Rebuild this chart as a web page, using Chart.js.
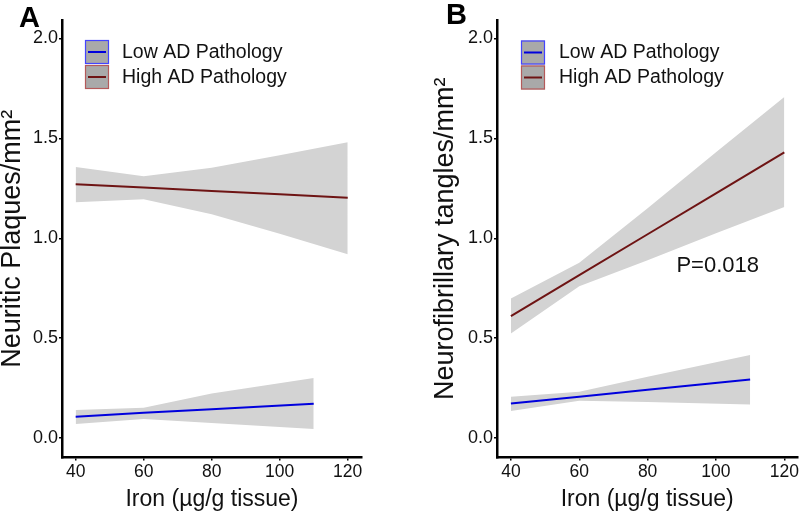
<!DOCTYPE html>
<html><head><meta charset="utf-8">
<script src="https://cdn.jsdelivr.net/npm/chart.js@4/dist/chart.umd.min.js"></script>
<style>
html,body{margin:0;padding:0;background:#fff;}
#wrap{position:relative;width:800px;height:514px;overflow:hidden;}
.panel{position:absolute;top:0;width:400px;height:514px;}
</style></head><body>
<div id="wrap">
<div class="panel" style="left:0"><canvas id="cA" width="400" height="514"></canvas></div>
<div class="panel" style="left:400px"><canvas id="cB" width="400" height="514"></canvas></div>
</div>
<script>
// ---- tick labels / categories ----
const xTicks = [40, 60, 80, 100, 120];
const yTicks = [0.0, 0.5, 1.0, 1.5, 2.0];
const seriesNames = ['Low AD Pathology', 'High AD Pathology'];

// ---- Panel A: Neuritic plaques ----
const ironHighA  = [40, 60, 80, 100, 120];
const highFitA   = [1.270, 1.254, 1.237, 1.220, 1.203];
const highUpperA = [1.357, 1.310, 1.353, 1.415, 1.480];
const highLowerA = [1.180, 1.195, 1.120, 1.022, 0.920];
const ironLowA   = [40, 60, 80, 110];
const lowFitA    = [0.107, 0.126, 0.144, 0.172];
const lowUpperA  = [0.140, 0.152, 0.223, 0.300];
const lowLowerA  = [0.070, 0.095, 0.075, 0.045];

// ---- Panel B: Neurofibrillary tangles ----
const ironHighB  = [40, 60, 80, 100, 120];
const highFitB   = [0.610, 0.815, 1.020, 1.225, 1.430];
const highUpperB = [0.698, 0.877, 1.150, 1.430, 1.707];
const highLowerB = [0.523, 0.760, 0.890, 1.025, 1.157];
const ironLowB   = [40, 60, 80, 110];
const lowFitB    = [0.173, 0.207, 0.242, 0.293];
const lowUpperB  = [0.207, 0.232, 0.307, 0.415];
const lowLowerB  = [0.135, 0.187, 0.180, 0.168];

const pValueB = 'P=0.018';

const FONT = '"Liberation Sans", Arial, Helvetica, sans-serif';
const BAND = '#d3d3d3';
const LOW_COL = '#0000dd';
const HIGH_COL = '#6e1414';

function pts(xs, ys) { return xs.map((x, i) => ({x: x, y: ys[i]})); }

function datasets(ixH, fitH, upH, loH, ixL, fitL, upL, loL) {
  const band = {borderWidth: 0, pointRadius: 0, backgroundColor: BAND, borderColor: 'rgba(0,0,0,0)', order: 2, tension: 0};
  return [
    Object.assign({label: 'highUpper', data: pts(ixH, upH), fill: '+1'}, band),
    Object.assign({label: 'highLower', data: pts(ixH, loH), fill: false}, band),
    Object.assign({label: 'lowUpper', data: pts(ixL, upL), fill: '+1'}, band),
    Object.assign({label: 'lowLower', data: pts(ixL, loL), fill: false}, band),
    {label: seriesNames[1], data: pts(ixH, fitH), borderColor: HIGH_COL, borderWidth: 2, pointRadius: 0, fill: false, order: 0},
    {label: seriesNames[0], data: pts(ixL, fitL), borderColor: LOW_COL, borderWidth: 2, pointRadius: 0, fill: false, order: 0}
  ];
}

function overlayPlugin(cfg) {
  return {
    id: 'overlay',
    afterDraw(chart) {
      const ctx = chart.ctx;
      ctx.save();
      // panel letter
      ctx.fillStyle = '#000';
      ctx.font = 'bold 29px ' + FONT;
      ctx.textAlign = 'left';
      ctx.textBaseline = 'alphabetic';
      ctx.fillText(cfg.letter, cfg.letterX, cfg.letterY);
      // legend
      const keys = [
        {name: seriesNames[0], line: LOW_COL, border: '#4444ff'},
        {name: seriesNames[1], line: HIGH_COL, border: '#b45a5a'}
      ];
      keys.forEach((k, i) => {
        const bx = cfg.legX, by = cfg.legY + i * 25, bw = 24, bh = 24;
        ctx.fillStyle = '#a9a9a9';
        ctx.fillRect(bx, by, bw, bh);
        ctx.strokeStyle = k.border;
        ctx.lineWidth = 1.2;
        ctx.strokeRect(bx + 0.5, by + 0.5, bw - 1, bh - 1);
        ctx.strokeStyle = k.line;
        ctx.lineWidth = 2;
        ctx.beginPath();
        ctx.moveTo(bx + 3, by + bh / 2);
        ctx.lineTo(bx + bw - 3, by + bh / 2);
        ctx.stroke();
        ctx.fillStyle = '#111';
        ctx.font = '19.5px ' + FONT;
        ctx.textBaseline = 'alphabetic';
        ctx.fillText(k.name, cfg.textX, by + 17.5);
      });
      // p-value
      if (cfg.pText) {
        const xs = chart.scales.x, ys = chart.scales.y;
        ctx.fillStyle = '#111';
        ctx.font = '22px ' + FONT;
        ctx.textAlign = 'center';
        ctx.textBaseline = 'middle';
        ctx.fillText(cfg.pText, xs.getPixelForValue(cfg.pX), ys.getPixelForValue(cfg.pY));
      }
      ctx.restore();
    }
  };
}

function makeChart(id, ds, opt) {
  return new Chart(document.getElementById(id), {
    type: 'line',
    data: {datasets: ds},
    options: {
      responsive: false,
      animation: false,
      devicePixelRatio: 1,
      layout: {padding: {left: 0, top: 20, right: opt.padRight, bottom: 0}},
      plugins: {legend: {display: false}, tooltip: {enabled: false}},
      elements: {line: {tension: 0}},
      scales: {
        x: {
          type: 'linear', min: opt.xMin, max: opt.xMax,
          afterFit: s => { s.height = 56.5; },
          afterBuildTicks: s => { s.ticks = xTicks.map(v => ({value: v})); },
          ticks: {font: {size: 17.5, family: FONT}, color: '#111', padding: 1, maxRotation: 0, autoSkip: false},
          grid: {display: true, drawOnChartArea: false, drawTicks: true, tickLength: 3, color: '#000', lineWidth: 1.5},
          border: {display: true, color: '#000', width: 2.5},
          title: {display: true, text: 'Iron (µg/g tissue)', color: '#111', font: {size: 23, family: FONT, lineHeight: 1}, padding: {top: 0, bottom: 3}}
        },
        y: {
          type: 'linear', min: -0.0975, max: 2.0925,
          afterFit: s => { s.width = opt.yWidth; },
          afterBuildTicks: s => { s.ticks = yTicks.map(v => ({value: v})); },
          ticks: {font: {size: 18, family: FONT}, color: '#111', padding: 1, callback: v => Number(v).toFixed(1)},
          grid: {display: true, drawOnChartArea: false, drawTicks: true, tickLength: 3, color: '#000', lineWidth: 1.5},
          border: {display: true, color: '#000', width: 2.5},
          title: {display: true, text: opt.yTitle, color: '#111', font: {size: 27, family: FONT, lineHeight: 1}, padding: {top: opt.yTitlePad, bottom: 0}}
        }
      }
    },
    plugins: [overlayPlugin(opt.overlay)]
  });
}

makeChart('cA',
  datasets(ironHighA, highFitA, highUpperA, highLowerA, ironLowA, lowFitA, lowUpperA, lowLowerA),
  {padRight: 38, xMin: 35.98, xMax: 124.2, yWidth: 62, yTitle: 'Neuritic Plaques/mm²', yTitlePad: -1,
   overlay: {letter: 'A', letterX: 19, letterY: 26.5, legX: 85, legY: 40, textX: 122}});

makeChart('cB',
  datasets(ironHighB, highFitB, highUpperB, highLowerB, ironLowB, lowFitB, lowUpperB, lowLowerB),
  {padRight: 2, xMin: 35.93, xMax: 123.8, yWidth: 97, yTitle: 'Neurofibrillary tangles/mm²', yTitlePad: 32,
   overlay: {letter: 'B', letterX: 46, letterY: 24, legX: 121, legY: 40.5, textX: 159,
             pText: pValueB, pX: 100.5, pY: 0.86}});
</script>
</body></html>
